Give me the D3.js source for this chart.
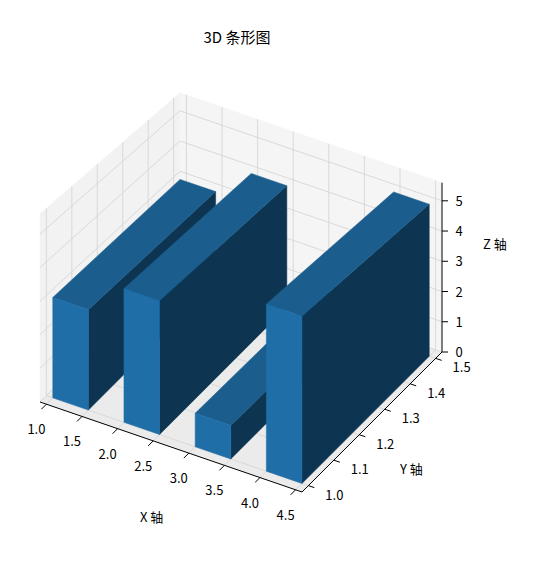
<!DOCTYPE html><html><head><meta charset="utf-8"><script src="https://cdn.jsdelivr.net/npm/d3@7"></script>
<style>body{margin:0;background:#fff}text{font-family:"Noto Sans CJK SC","DejaVu Sans Mono",monospace;font-size:13px;fill:#000}</style></head><body>
<svg id="c" width="559" height="563"></svg>
<script>
const xs=[1,2,3,4];
const heights=[3,4,1,5];
const xTicks=[1.0,1.5,2.0,2.5,3.0,3.5,4.0,4.5];
const yTicks=[1.0,1.1,1.2,1.3,1.4,1.5];
const zTicks=[0,1,2,3,4,5];
const svg=d3.select("#c");
const X0=0.91,X1=4.59,Y0=0.975,Y1=1.525,Z1=5.6;
const sx=d3.scaleLinear().domain([X0,X1]).range([0,1]);
const sy=d3.scaleLinear().domain([Y0,Y1]).range([0,1]);
const sz=d3.scaleLinear().domain([0,5]).range([0,1]);
function P(x,y,z){const a=sx(x),b=sy(y),c=sz(z);
 const s=1-0.1*b;
 return [40+a*262+b*140, 402+a*90-b*140-c*168*s];}
const line=d3.line();
function poly(pts,fill){svg.append("path").attr("d",line(pts)+"Z").attr("fill",fill).attr("stroke",fill).attr("stroke-width",0.5);}
poly([P(X0,Y0,0),P(X1,Y0,0),P(X1,Y1,0),P(X0,Y1,0)],"#ebebeb");
poly([P(X0,Y0,0),P(X0,Y1,0),P(X0,Y1,Z1),P(X0,Y0,Z1)],"#f2f2f2");
poly([P(X0,Y1,0),P(X1,Y1,0),P(X1,Y1,Z1),P(X0,Y1,Z1)],"#f5f5f5");
const g="#d6d6d6";
function L(a,b,c,w){svg.append("line").attr("x1",a[0]).attr("y1",a[1]).attr("x2",b[0]).attr("y2",b[1]).attr("stroke",c||g).attr("stroke-width",w||0.9);}
xTicks.forEach(x=>{L(P(x,Y0,0),P(x,Y1,0));L(P(x,Y1,0),P(x,Y1,Z1));});
yTicks.forEach(y=>{L(P(X0,y,0),P(X1,y,0));L(P(X0,y,0),P(X0,y,Z1));});
zTicks.forEach(z=>{L(P(X0,Y0,z),P(X0,Y1,z));L(P(X0,Y1,z),P(X1,Y1,z));});
L(P(X0,Y0,0),P(X1,Y0,0),"#000",1);L(P(X1,Y0,0),P(X1,Y1,0),"#000",1);L(P(X1,Y1,0),P(X1,Y1,Z1),"#000",1);
xTicks.forEach(x=>{const p=P(x,Y0,0);L(p,[p[0]-5,p[1]+5],"#000",1);
 svg.append("text").attr("x",p[0]-10).attr("y",p[1]+30).attr("text-anchor","middle").text(x.toFixed(1));});
yTicks.forEach(y=>{const p=P(X1,y,0);L(p,[p[0]+6,p[1]+2],"#000",1);
 svg.append("text").attr("x",p[0]+26).attr("y",p[1]+14).attr("text-anchor","middle").text(y.toFixed(1));});
zTicks.forEach(z=>{const p=P(X1,Y1,z);L(p,[p[0]+6,p[1]],"#000",1);
 svg.append("text").attr("x",p[0]+17).attr("y",p[1]+5).attr("text-anchor","middle").text(z);});
svg.append("text").attr("x",140).attr("y",522).text("X 轴");
svg.append("text").attr("x",400).attr("y",474).text("Y 轴");
svg.append("text").attr("x",483).attr("y",249).text("Z 轴");
svg.append("text").attr("x",237).attr("y",43).attr("text-anchor","middle").style("font-size","15px").text("3D 条形图");
xs.forEach((x,i)=>{const h=heights[i],x2=x+0.5,y1=1,y2=1.5;
 poly([P(x2,y1,0),P(x2,y2,0),P(x2,y2,h),P(x2,y1,h)],"#0d3450");
 poly([P(x,y1,h),P(x2,y1,h),P(x2,y2,h),P(x,y2,h)],"#1b5e8e");
 poly([P(x,y1,0),P(x2,y1,0),P(x2,y1,h),P(x,y1,h)],"#1f6ea7");
});
</script></body></html>
